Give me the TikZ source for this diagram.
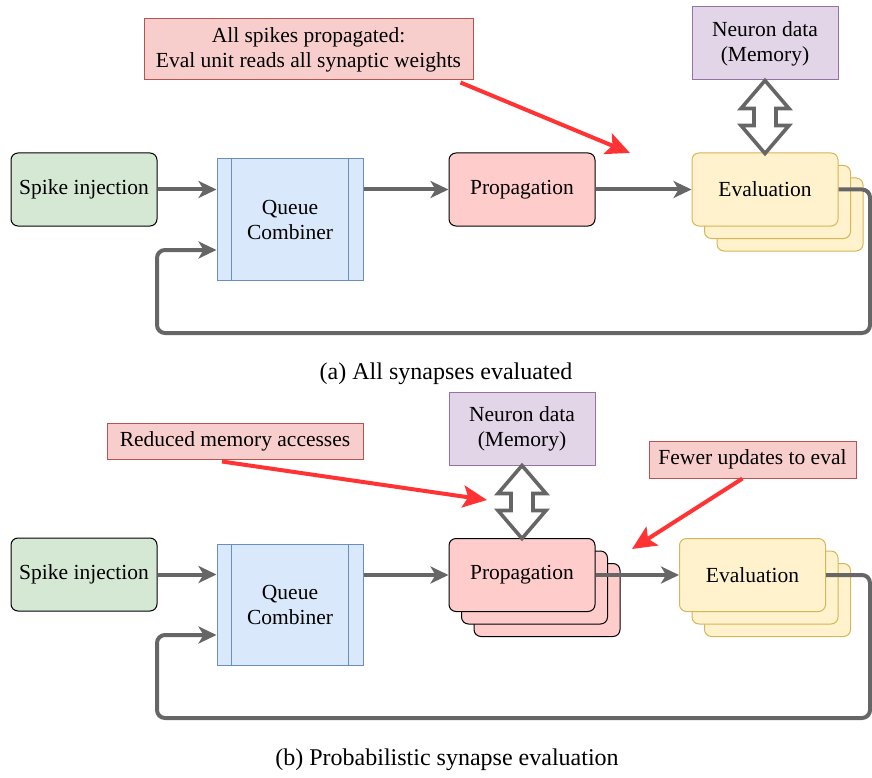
\documentclass[tikz,border=0pt]{standalone}
\usepackage{fontspec}
\setmainfont{Liberation Serif}
\usetikzlibrary{arrows.meta,calc,positioning}

\definecolor{injfill}{HTML}{D5E8D4}
\definecolor{propfill}{HTML}{FFCCCC}
\definecolor{evalfill}{HTML}{FFF2CC}
\definecolor{evaldraw}{HTML}{D6B656}
\definecolor{queuefill}{HTML}{DAE8FC}
\definecolor{queuedraw}{HTML}{6C8EBF}
\definecolor{memfill}{HTML}{E1D5E7}
\definecolor{memdraw}{HTML}{9673A6}
\definecolor{notefill}{HTML}{F8CECC}
\definecolor{notedraw}{HTML}{B85450}
\definecolor{hintred}{HTML}{FF3333}
\definecolor{linegray}{HTML}{666666}

\begin{document}
\begin{tikzpicture}[x=1pt,y=-1pt,>={Stealth[length=18pt,width=17pt,inset=5pt]},
    font=\fontsize{21.5}{25}\selectfont,
    block/.style={draw,line width=1pt,rounded corners=7pt,minimum width=146pt,minimum height=73pt,align=center,inner sep=2pt},
    inject/.style={block,fill=injfill},
    prop/.style={block,fill=propfill},
    evalbox/.style={block,draw=evaldraw,fill=evalfill},
    queue/.style={draw=queuedraw,line width=1pt,fill=queuefill,minimum width=146pt,minimum height=121pt,align=center},
    memory/.style={draw=memdraw,line width=1pt,fill=memfill,minimum width=146pt,minimum height=73pt,align=center},
    note/.style={draw=notedraw,line width=1pt,fill=notefill,align=center,inner sep=3pt},
    flow/.style={->,draw=linegray,line width=4pt},
    loop/.style={flow,rounded corners=8pt},
    hint/.style={-{Stealth[length=24pt,width=22pt,inset=5pt]},draw=hintred,line width=4pt},
    memlink/.style={draw=linegray,line width=3.6pt,fill=white,line join=miter},
    caption/.style={font=\fontsize{24}{28}\selectfont}]

\useasboundingbox (0,0) rectangle (872,778);

% (a) all synapses evaluated
\node[inject] (spk1) at (84,189.5) {Spike injection};
\node[queue] (q1) at (290,219.5) {Queue\\Combiner};
\draw[queuedraw,line width=1pt] ($(q1.north west)+(15,0)$) -- ($(q1.south west)+(15,0)$);
\draw[queuedraw,line width=1pt] ($(q1.north east)+(-15,0)$) -- ($(q1.south east)+(-15,0)$);
\node[prop] (pr1) at (522,189.5) {Propagation};
\node[evalbox] (ev1c) at (790,214.5) {};
\node[evalbox] (ev1b) at (777.5,202) {};
\node[evalbox] (ev1) at (765,189.5) {Evaluation};
\node[memory] (mem1) at (765,43.5) {Neuron data\\(Memory)};
\node[note,minimum width=329pt,minimum height=61pt] (note1) at (308.5,49.5) {All spikes propagated:\\Eval unit reads all synaptic weights};

\draw[flow] (spk1.east) -- (spk1.east -| q1.west);
\draw[flow] (q1.east |- pr1) -- (pr1.west);
\draw[flow] (pr1.east) -- (ev1.west);
\draw[loop] (ev1.east) -- (870,189.5) -- (870,333) -- (157,333) -- (157,250) -- (q1.west |- 0,250);
\draw[memlink] (mem1.south) -- ++(24,28) -- ++(-13,0) -- ++(0,17) -- ++(13,0) -- ++(-24,28)
    -- ++(-24,-28) -- ++(13,0) -- ++(0,-17) -- ++(-13,0) -- cycle;

\coordinate (tip1) at (630,153);
\draw[hint] ($(note1.south east)+(-13,2)$) -- (tip1);

\node[caption] (cap1) at (446,374) {(a) All synapses evaluated};

% (b) probabilistic synapse evaluation
\node[inject] (spk2) at (84,574.5) {Spike injection};
\node[queue] (q2) at (290,605) {Queue\\Combiner};
\draw[queuedraw,line width=1pt] ($(q2.north west)+(15,0)$) -- ($(q2.south west)+(15,0)$);
\draw[queuedraw,line width=1pt] ($(q2.north east)+(-15,0)$) -- ($(q2.south east)+(-15,0)$);
\node[prop] (pr2c) at (547,600) {};
\node[prop] (pr2b) at (534.5,587.5) {};
\node[prop] (pr2) at (522,575) {Propagation};
\node[evalbox] (ev2c) at (777.5,600) {};
\node[evalbox] (ev2b) at (765,587.5) {};
\node[evalbox] (ev2) at (752.5,575) {Evaluation};
\node[memory] (mem2) at (522,428.5) {Neuron data\\(Memory)};
\node[note,minimum width=256pt,minimum height=36pt] (note2) at (235,441) {Reduced memory accesses};
\node[note,minimum width=207pt,minimum height=37pt] (note3) at (752.5,459.5) {Fewer updates to eval};

\draw[flow] (spk2.east) -- (spk2.east -| q2.west);
\draw[flow] (q2.east |- pr2) -- (pr2.west);
\draw[flow] (pr2.east) -- (ev2.west);
\draw[loop] (ev2.east) -- (870,575) -- (870,718) -- (157,718) -- (157,635) -- (q2.west |- 0,635);
\draw[memlink] (mem2.south) -- ++(24,28) -- ++(-13,0) -- ++(0,17) -- ++(13,0) -- ++(-24,28)
    -- ++(-24,-28) -- ++(13,0) -- ++(0,-17) -- ++(-13,0) -- cycle;

\coordinate (tip2) at (487,500);
\coordinate (tip3) at (632,549);
\draw[hint] ($(note2.south)+(-13,2)$) -- (tip2);
\draw[hint] ($(note3.south)+(-10,0)$) -- (tip3);

\node[caption] (cap2) at (447,760) {(b) Probabilistic synapse evaluation};

\end{tikzpicture}
\end{document}
